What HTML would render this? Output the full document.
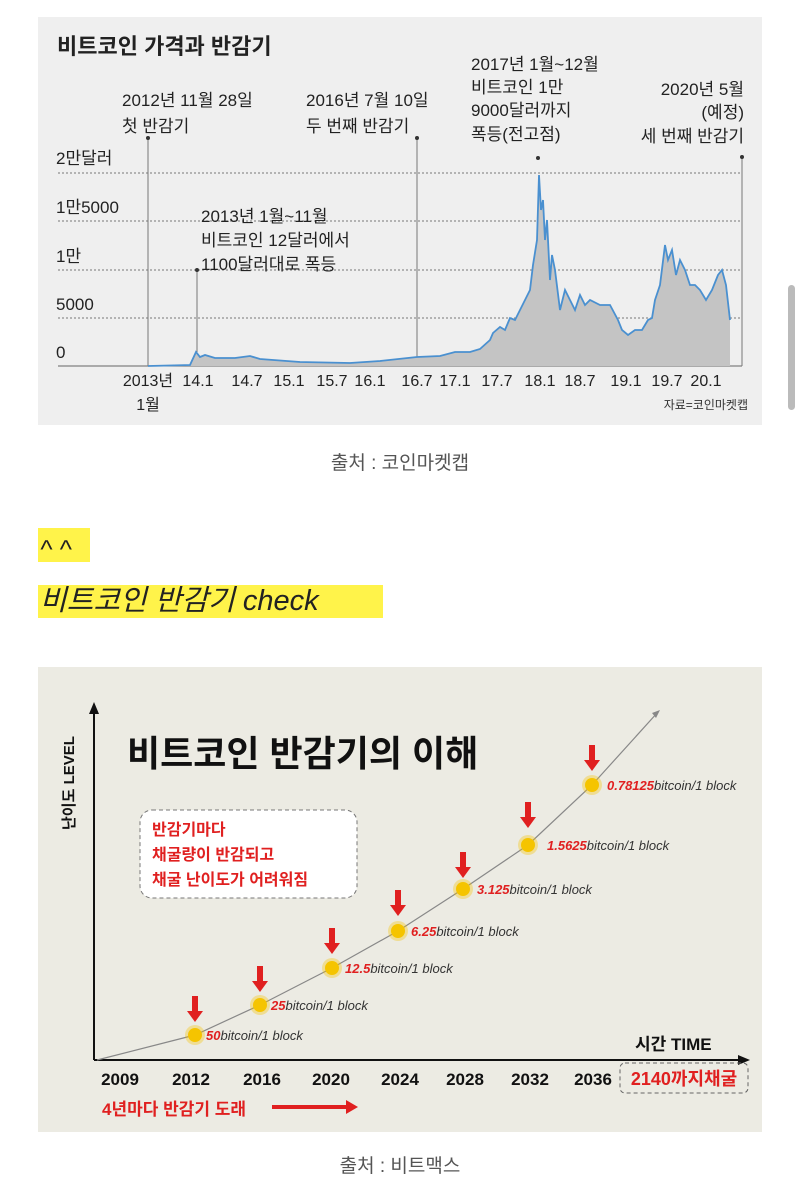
<!DOCTYPE html>
<html><head><meta charset="utf-8"><style>
body{margin:0;width:800px;height:1200px;background:#fff;position:relative;overflow:hidden;font-family:"Liberation Sans","Noto Sans CJK KR",sans-serif}
.a{position:absolute;white-space:nowrap}
</style></head><body>
<svg class="a" style="left:0;top:0" width="800" height="1200" font-family="Liberation Sans, Noto Sans CJK KR, sans-serif">
<rect x="38" y="17" width="724" height="408" fill="#efefef"/>
<text x="57" y="54" font-size="22" font-weight="bold" fill="#222">비트코인 가격과 반감기</text>
<g stroke="#777" stroke-dasharray="2,2" stroke-width="1">
<line x1="58" y1="173" x2="742" y2="173"/><line x1="58" y1="221" x2="742" y2="221"/>
<line x1="58" y1="270" x2="742" y2="270"/><line x1="58" y1="318" x2="742" y2="318"/></g>
<line x1="58" y1="366" x2="742" y2="366" stroke="#666"/>
<g stroke="#777" stroke-width="1"><line x1="148" y1="138" x2="148" y2="366"/><line x1="197" y1="270" x2="197" y2="352"/><line x1="417" y1="138" x2="417" y2="357"/><line x1="742" y1="157" x2="742" y2="366"/></g>
<g fill="#333"><circle cx="148" cy="138" r="2"/><circle cx="197" cy="270" r="2"/><circle cx="417" cy="138" r="2"/><circle cx="538" cy="158" r="2"/><circle cx="742" cy="157" r="2"/></g>
<polygon fill="#c4c4c4" points="148,366 190,365 196,352 200,357 205,355 215,358 235,358 250,356 260,359 300,362 350,363 380,361 417,357 440,356 455,352 470,352 480,349 490,340 493,333 500,327 505,330 510,318 515,320 520,310 525,300 530,290 533,265 537,240 539,175 541,210 543,200 545,240 547,220 550,280 552,255 555,270 560,310 565,290 570,300 575,310 580,295 585,305 590,300 600,305 610,305 618,320 622,330 628,335 635,330 642,330 648,320 652,318 655,300 660,285 665,245 668,260 672,250 676,275 680,260 685,270 690,285 695,285 700,290 706,300 712,290 718,275 722,270 726,285 730,320 730,366"/>
<polyline fill="none" stroke="#4a90d0" stroke-width="1.8" points="148,366 190,365 196,352 200,357 205,355 215,358 235,358 250,356 260,359 300,362 350,363 380,361 417,357 440,356 455,352 470,352 480,349 490,340 493,333 500,327 505,330 510,318 515,320 520,310 525,300 530,290 533,265 537,240 539,175 541,210 543,200 545,240 547,220 550,280 552,255 555,270 560,310 565,290 570,300 575,310 580,295 585,305 590,300 600,305 610,305 618,320 622,330 628,335 635,330 642,330 648,320 652,318 655,300 660,285 665,245 668,260 672,250 676,275 680,260 685,270 690,285 695,285 700,290 706,300 712,290 718,275 722,270 726,285 730,320"/>
<g font-size="17" fill="#222">
<text x="56" y="164">2만달러</text><text x="56" y="213">1만5000</text><text x="56" y="262">1만</text><text x="56" y="310">5000</text><text x="56" y="358">0</text>
<text x="122" y="106">2012년 11월 28일</text><text x="122" y="132">첫 반감기</text>
<text x="306" y="106">2016년 7월 10일</text><text x="306" y="132">두 번째 반감기</text>
<text x="471" y="70">2017년 1월~12월</text><text x="471" y="93">비트코인 1만</text><text x="471" y="116">9000달러까지</text><text x="471" y="140">폭등(전고점)</text>
<text x="744" y="95" text-anchor="end">2020년 5월</text><text x="744" y="118" text-anchor="end">(예정)</text><text x="744" y="142" text-anchor="end">세 번째 반감기</text>
<text x="201" y="222">2013년 1월~11월</text><text x="201" y="246">비트코인 12달러에서</text><text x="201" y="270">1100달러대로 폭등</text>
</g>
<g font-size="16" fill="#222" text-anchor="middle">
<text x="148" y="386">2013년</text><text x="148" y="410">1월</text><text x="198" y="386">14.1</text><text x="247" y="386">14.7</text><text x="289" y="386">15.1</text><text x="332" y="386">15.7</text><text x="370" y="386">16.1</text><text x="417" y="386">16.7</text><text x="455" y="386">17.1</text><text x="497" y="386">17.7</text><text x="540" y="386">18.1</text><text x="580" y="386">18.7</text><text x="626" y="386">19.1</text><text x="667" y="386">19.7</text><text x="706" y="386">20.1</text>
</g>
<text x="748" y="409" font-size="12" fill="#333" text-anchor="end">자료=코인마켓캡</text>
<text x="400" y="469" font-size="19" fill="#555" text-anchor="middle">출처 : 코인마켓캡</text>
<rect x="38" y="528" width="52" height="34" fill="#fff34a"/>
<text x="40" y="558" font-size="26" font-style="italic" fill="#222">^ ^</text>
<rect x="38" y="585" width="345" height="33" fill="#fff34a"/>
<text x="40" y="610" font-size="29" font-style="italic" fill="#222">비트코인 반감기 check</text>
<rect x="788" y="285" width="7" height="125" rx="3.5" fill="#bbb"/>
<rect x="38" y="667" width="724" height="465" fill="#ecebe3"/>
<line x1="94" y1="1060" x2="94" y2="712" stroke="#111" stroke-width="2"/><polygon points="89,714 99,714 94,702" fill="#111"/>
<line x1="94" y1="1060" x2="740" y2="1060" stroke="#111" stroke-width="2"/><polygon points="738,1055 738,1065 750,1060" fill="#111"/>
<polyline fill="none" stroke="#888" stroke-width="1.2" points="97,1060 195,1035 260,1005 332,968 398,931 463,889 528,845 592,785 658,712"/>
<polygon points="652,713 660,710 656,718" fill="#888"/>
<text x="127" y="766" font-size="36" font-weight="bold" fill="#111">비트코인 반감기의 이해</text>
<text transform="translate(74,830) rotate(-90)" font-size="15" font-weight="bold" fill="#111">난이도 LEVEL</text>
<rect x="140" y="810" width="217" height="88" rx="12" fill="#fff" stroke="#777" stroke-dasharray="4,3"/>
<g font-size="16" font-weight="bold" fill="#e02020"><text x="152" y="835">반감기마다</text><text x="152" y="860">채굴량이 반감되고</text><text x="152" y="885">채굴 난이도가 어려워짐</text></g>
<g fill="#f5c400">
<circle cx="195" cy="1035" r="10" opacity=".35"/><circle cx="195" cy="1035" r="7"/>
<circle cx="260" cy="1005" r="10" opacity=".35"/><circle cx="260" cy="1005" r="7"/>
<circle cx="332" cy="968" r="10" opacity=".35"/><circle cx="332" cy="968" r="7"/>
<circle cx="398" cy="931" r="10" opacity=".35"/><circle cx="398" cy="931" r="7"/>
<circle cx="463" cy="889" r="10" opacity=".35"/><circle cx="463" cy="889" r="7"/>
<circle cx="528" cy="845" r="10" opacity=".35"/><circle cx="528" cy="845" r="7"/>
<circle cx="592" cy="785" r="10" opacity=".35"/><circle cx="592" cy="785" r="7"/>
</g>
<g fill="#e02020">
<rect x="192" y="996" width="6" height="16"/><polygon points="187,1011 203,1011 195,1022"/>
<rect x="257" y="966" width="6" height="16"/><polygon points="252,981 268,981 260,992"/>
<rect x="329" y="928" width="6" height="16"/><polygon points="324,943 340,943 332,954"/>
<rect x="395" y="890" width="6" height="16"/><polygon points="390,905 406,905 398,916"/>
<rect x="460" y="852" width="6" height="16"/><polygon points="455,867 471,867 463,878"/>
<rect x="525" y="802" width="6" height="16"/><polygon points="520,817 536,817 528,828"/>
<rect x="589" y="745" width="6" height="16"/><polygon points="584,760 600,760 592,771"/>
</g>
<g font-size="13" font-style="italic" fill="#333">
<text x="206" y="1040"><tspan fill="#e02020" font-weight="bold">50</tspan>bitcoin/1 block</text>
<text x="271" y="1010"><tspan fill="#e02020" font-weight="bold">25</tspan>bitcoin/1 block</text>
<text x="345" y="973"><tspan fill="#e02020" font-weight="bold">12.5</tspan>bitcoin/1 block</text>
<text x="411" y="936"><tspan fill="#e02020" font-weight="bold">6.25</tspan>bitcoin/1 block</text>
<text x="477" y="894"><tspan fill="#e02020" font-weight="bold">3.125</tspan>bitcoin/1 block</text>
<text x="547" y="850"><tspan fill="#e02020" font-weight="bold">1.5625</tspan>bitcoin/1 block</text>
<text x="607" y="790"><tspan fill="#e02020" font-weight="bold">0.78125</tspan>bitcoin/1 block</text>
</g>
<text x="635" y="1050" font-size="17" font-weight="bold" fill="#111">시간 TIME</text>
<g font-size="17" font-weight="bold" fill="#111" text-anchor="middle">
<text x="120" y="1085">2009</text><text x="191" y="1085">2012</text><text x="262" y="1085">2016</text><text x="331" y="1085">2020</text><text x="400" y="1085">2024</text><text x="465" y="1085">2028</text><text x="530" y="1085">2032</text><text x="593" y="1085">2036</text></g>
<rect x="620" y="1063" width="128" height="30" rx="5" fill="none" stroke="#666" stroke-dasharray="4,3"/>
<text x="684" y="1085" font-size="18" font-weight="bold" fill="#e02020" text-anchor="middle">2140까지채굴</text>
<text x="102" y="1115" font-size="17" font-weight="bold" fill="#e02020">4년마다 반감기 도래</text>
<rect x="272" y="1105" width="76" height="4" fill="#e02020"/><polygon points="346,1100 346,1114 358,1107" fill="#e02020"/>
<text x="400" y="1172" font-size="19" fill="#555" text-anchor="middle">출처 : 비트맥스</text>
</svg>
</body></html>
